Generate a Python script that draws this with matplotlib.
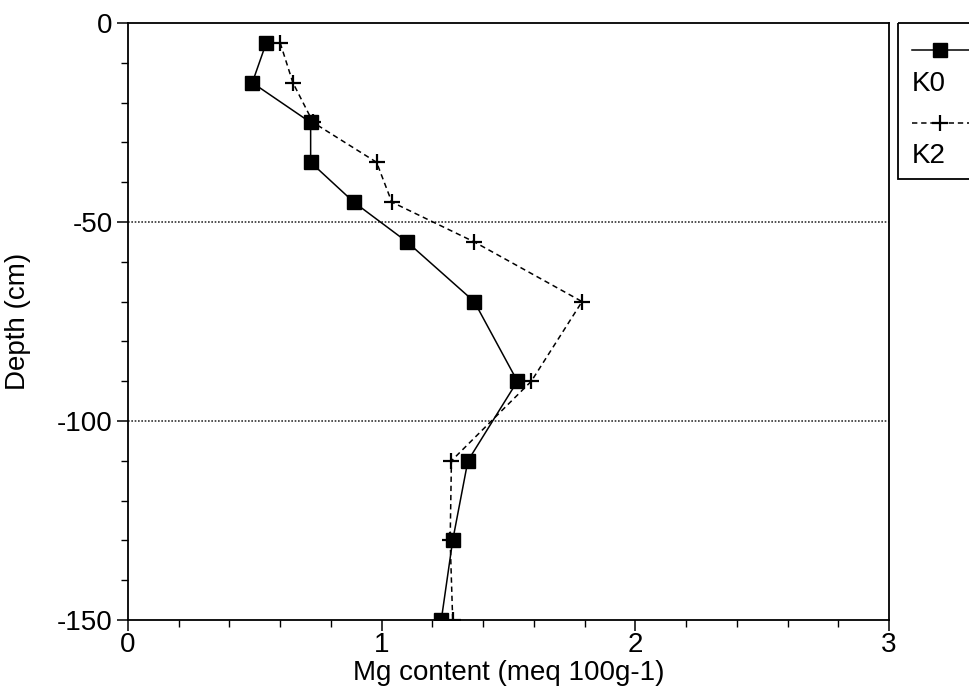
import matplotlib
matplotlib.use("Agg")
import matplotlib.pyplot as plt
from matplotlib.patches import Rectangle
from matplotlib.ticker import MultipleLocator

plt.rcParams['font.family'] = ['Liberation Sans', 'DejaVu Sans']
plt.rcParams['axes.unicode_minus'] = False

depth = [-5, -15, -25, -35, -45, -55, -70, -90, -110, -130, -150]
k0 = [0.545, 0.49, 0.72, 0.72, 0.89, 1.10, 1.365, 1.535, 1.34, 1.28, 1.235]
k2 = [0.60, 0.65, 0.73, 0.98, 1.04, 1.365, 1.79, 1.59, 1.275, 1.27, 1.28]
labels = ["K0", "K2"]

W, H = 969, 691
fig = plt.figure(figsize=(W / 100, H / 100), dpi=100)
L, R, T, B = 128, 889, 23, 620
ax = fig.add_axes([L / W, 1 - B / H, (R - L) / W, (B - T) / H])

ax.plot(k0, depth, color='black', lw=1.1, marker='s', ms=10, mfc='black', mec='black', zorder=3)
ax.plot(k2, depth, color='black', lw=1.1, ls=(0, (3.5, 2.5)), marker='+', ms=11, mew=1.6, zorder=3)

ax.set_xlim(0, 3)
ax.set_ylim(-150, 0)
ax.xaxis.set_major_locator(MultipleLocator(1))
ax.xaxis.set_minor_locator(MultipleLocator(0.2))
ax.yaxis.set_major_locator(MultipleLocator(50))
ax.yaxis.set_minor_locator(MultipleLocator(10))
ax.tick_params(which='major', direction='out', length=8, width=1.1, labelsize=20, pad=3)
ax.tick_params(axis='x', which='major', pad=1)
ax.tick_params(which='minor', direction='out', length=5, width=1.0)
for s in ax.spines.values():
    s.set_linewidth(1.3)

for yv in (-50, -100):
    ax.axhline(yv, color='#333333', lw=1.2, ls=(0, (1, 1)), zorder=1)

ax.set_xlabel("Mg content (meq 100g-1)", fontsize=20, labelpad=1)
ax.set_ylabel("Depth (cm)", fontsize=20)
ax.yaxis.set_label_coords(-(L - 31) / (R - L), 0.5)

# legend drawn manually (label under its line sample, box cut at right edge)
lax = fig.add_axes([0, 0, 1, 1], facecolor='none')
lax.set_xlim(0, W)
lax.set_ylim(H, 0)
lax.axis('off')
lax.add_patch(Rectangle((898, 23), 120, 156, fill=False, ec='black', lw=1.3, clip_on=False))
lax.plot([912, 975], [50, 50], color='black', lw=1.1, clip_on=False)
lax.plot([940], [50], marker='s', ms=10, color='black', clip_on=False)
lax.text(912, 84, labels[0], fontsize=20, va='center', ha='left')
lax.plot([912, 975], [123, 123], color='black', lw=1.1, ls=(0, (3.5, 2.5)), clip_on=False)
lax.plot([940], [123], marker='+', ms=11, mew=1.6, color='black', clip_on=False)
lax.text(912, 156, labels[1], fontsize=20, va='center', ha='left')

fig.savefig("out.png", dpi=100)
